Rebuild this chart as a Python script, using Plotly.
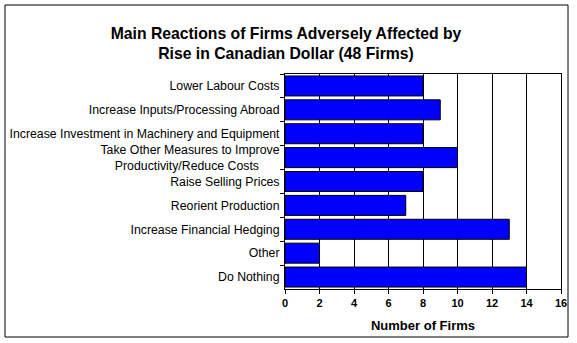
import plotly.graph_objects as go

categories = [
    "Lower Labour Costs",
    "Increase Inputs/Processing Abroad",
    "Increase Investment in Machinery and Equipment",
    "Take Other Measures to Improve<br>Productivity/Reduce Costs&nbsp;&nbsp;&nbsp;&nbsp;&nbsp;&nbsp;",
    "Raise Selling Prices",
    "Reorient Production",
    "Increase Financial Hedging",
    "Other",
    "Do Nothing",
]
firms = [8, 9, 8, 10, 8, 7, 13, 2, 14]
x_ticks = [0, 2, 4, 6, 8, 10, 12, 14, 16]

W, H = 577, 343
L, R, T, B = 285, 16, 74, 54
pw, ph = W - L - R, H - T - B

def px_x(p):
    return (p - L) / pw

def px_y(p):
    return (H - B - p) / ph

FONT = "Liberation Sans, Arial, sans-serif"

fig = go.Figure(
    go.Bar(
        y=categories,
        x=firms,
        orientation="h",
        marker=dict(color="#0000FF", line=dict(color="black", width=1)),
        hoverinfo="x+y",
    )
)

fig.update_layout(
    width=W,
    height=H,
    margin=dict(l=L, r=R, t=T, b=B, autoexpand=False),
    paper_bgcolor="white",
    plot_bgcolor="white",
    bargap=0.163,
    showlegend=False,
    font=dict(family=FONT, color="black"),
    title=dict(
        text="Main Reactions of Firms Adversely Affected by<br>Rise in Canadian Dollar (48 Firms)",
        font=dict(family=FONT, size=15.75, color="black", weight="bold"),
        x=286 / W,
        xref="container",
        xanchor="center",
        y=1 - 39 / H,
        yanchor="middle",
        yref="container",
    ),
    xaxis=dict(
        range=[0, 16],
        automargin=False,
        tickvals=x_ticks,
        ticktext=[str(v) for v in x_ticks],
        showgrid=True,
        gridcolor="black",
        gridwidth=1,
        zeroline=False,
        showline=True,
        linecolor="black",
        linewidth=1,
        mirror=True,
        ticks="outside",
        ticklen=4,
        tickcolor="black",
        tickfont=dict(family=FONT, size=11, color="black", weight="bold"),
        title=dict(
            text="Number of Firms",
            font=dict(family=FONT, size=13, color="black", weight="bold"),
            standoff=12,
        ),
    ),
    yaxis=dict(
        autorange="reversed",
        automargin=False,
        showline=True,
        linecolor="black",
        linewidth=1,
        mirror=True,
        ticks="outside",
        ticklen=4,
        tickcolor="black",
        tickson="boundaries",
        showgrid=False,
        ticklabelstandoff=2,
        tickfont=dict(family=FONT, size=12.3, color="black"),
    ),
    shapes=[
        dict(
            type="rect",
            xref="paper",
            yref="paper",
            x0=px_x(5),
            x1=px_x(568),
            y0=px_y(337),
            y1=px_y(5),
            line=dict(color="black", width=1),
            fillcolor="rgba(0,0,0,0)",
            layer="below",
        )
    ],
)

fig.write_html("out.html")
